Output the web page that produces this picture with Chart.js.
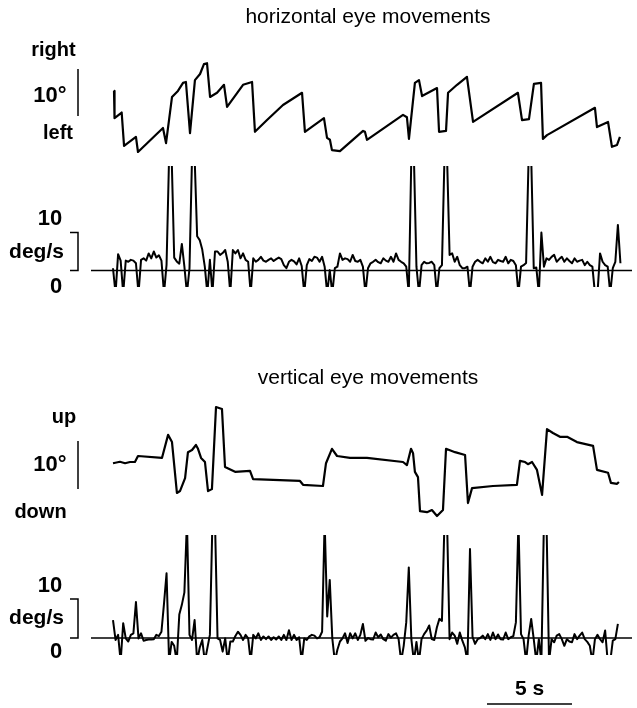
<!DOCTYPE html>
<html lang="en">
<head>
  <meta charset="UTF-8" />
  <title>Eye movements</title>
  <style>
    body {
      margin: 0;
      background: #fff;
    }
    #wrap {
      position: relative;
      width: 637px;
      height: 708px;
    }
    #wrap canvas {
      position: absolute;
      left: 0;
      top: 0;
    }
  </style>
  <script src="https://cdn.jsdelivr.net/npm/chart.js"></script>
</head>
<body>

<div id="wrap">
  <canvas id="hPos" width="637" height="708"></canvas>
  <canvas id="hVel" width="637" height="708"></canvas>
  <canvas id="vPos" width="637" height="708"></canvas>
  <canvas id="vVel" width="637" height="708"></canvas>
</div>

<script>
  // horizontal eye position (s, deg)
  const hPosT = [0.06, 0.09, 0.51, 0.65, 1.35, 1.47, 2.94, 3.12, 3.47, 3.82, 4.12, 4.29, 4.53, 4.82, 5.12,
    5.35, 5.53, 5.71, 6.12, 6.53, 6.71, 7.65, 8.18, 8.35, 9.06, 10.0, 11.12, 11.29, 12.41, 12.59, 12.76,
    12.88, 13.35, 14.71, 14.82, 14.94, 17.06, 17.29, 17.41, 17.76, 18.0, 18.18, 19.06, 19.18, 19.59,
    19.71, 20.24, 20.82, 21.18, 23.82, 24.06, 24.47, 24.76, 25.18, 25.29, 25.53, 28.35, 28.47, 29.12,
    29.35, 29.65, 29.82];
  const hPosDeg = [13.0, 7.2, 8.4, 1.3, 3.2, 0.0, 5.1, 1.9, 11.7, 13.0, 14.7, 14.9, 4.0, 15.3, 16.6,
    18.7, 18.9, 11.7, 12.6, 14.3, 9.6, 14.3, 14.9, 4.3, 6.8, 10.0, 12.6, 4.3, 7.2, 3.0, 2.6,
    0.4, 0.2, 4.5, 4.3, 2.6, 7.9, 7.4, 2.8, 14.7, 15.3, 11.9, 13.6, 4.3, 4.5,
    12.6, 14.3, 16.0, 6.4, 12.6, 6.8, 7.0, 14.5, 14.7, 2.8, 3.6, 9.4, 5.3, 6.4,
    1.1, 1.5, 3.2];

  // velocity traces are sampled every VEL_DT seconds from t = 0
  const VEL_DT = 0.15;
  const hVelDps = [
    0.6, -6, 4.3, 2.6, -6, 2.6, 2.3, 2.8, 2.6, 1.9,
    -6, 2.8, 3.2, 2.6, 4.5, 3.2, 5.0, 3.4, 4.0, 2.6,
    -6, 1.5, 30, 30, 3.4, 2.4, 1.8, 7.0, 1.0, -6,
    0.6, 30, 30, 9.0, 8.0, 5.5, 1.0, -6, 2.8, -6,
    5.0, 5.0, 4.1, 4.6, 5.4, 2.3, -6, 5.4, 4.5, 5.4,
    3.2, 4.5, 2.8, 2.3, -6, 3.2, 2.3, 2.8, 3.6, 2.6,
    2.3, 2.8, 3.2, 2.5, 3.0, 3.4, 3.0, 1.4, 0.6, 2.3,
    2.8, 2.4, 1.6, 3.2, 1.2, -6, 1.4, 3.0, 2.5, 3.6,
    3.4, 2.3, 3.6, 1.0, -6, 0.1, -6, 0.6, 1.0, 4.5,
    2.8, 3.2, 3.0, 2.3, 4.1, 2.5, 2.3, 2.8, 1.0, -6,
    0.6, 1.9, 2.3, 2.8, 2.2, 1.9, 3.2, 2.6, 2.3, 3.6,
    2.3, 4.5, 2.8, 2.3, 1.9, 1.0, -6, 30, 30, 1.0,
    -6, 1.4, 2.3, 1.9, 2.0, 2.3, 1.4, -6, 0.6, 1.4,
    30, 30, 4.1, 4.5, 2.3, 3.6, 1.4, 0.6, 0.6, 1.0,
    -6, 1.0, 2.3, 2.8, 2.3, 1.9, 3.2, 2.3, 3.6, 2.2,
    1.9, 2.8, 2.5, 2.3, 3.6, 1.9, 2.8, 2.5, 1.4, -6,
    1.0, 1.4, 2.0, 30, 30, 0.6, 0.8, -6, 10, 1.0,
    3.2, 2.8, 3.6, 4.1, 2.3, 3.0, 3.6, 2.3, 3.2, 2.5,
    1.9, 3.2, 2.3, 2.6, 2.8, 1.4, 2.3, 1.4, 1.0, -6,
    -6, 4.5, 2.3, 1.4, 1.0, -6, 0.6, 2.3, 12, 1.9
  ];

  // vertical eye position (s, deg)
  const vPosT = [0.0, 0.41, 0.71, 1.0, 1.29, 1.47, 2.88, 3.24, 3.47, 3.76, 3.94, 4.24, 4.41, 4.65, 4.88,
    5.0, 5.18, 5.41, 5.59, 5.82, 6.06, 6.41, 6.59, 7.18, 8.06, 8.24, 11.0, 11.18, 12.35, 12.53,
    12.88, 13.18, 13.94, 14.94, 17.06, 17.29, 17.53, 17.65, 17.76, 17.94, 18.06, 18.47, 18.76, 19.06,
    19.41, 19.59, 20.12, 20.71, 20.88, 21.12, 22.35, 23.76, 23.94, 24.24, 24.41, 24.65, 24.94, 25.24,
    25.53, 25.88, 26.29, 26.71, 27.29, 28.24, 28.47, 29.12, 29.29, 29.65, 29.76];
  const vPosDeg = [11.0, 11.3, 11.0, 11.25, 11.25, 12.5, 12.1, 16.9, 15.4, 4.8, 5.2, 7.9, 13.3, 13.75, 14.8,
    14.0, 12.1, 11.25, 5.2, 5.6, 22.7, 22.3, 10.2, 9.2, 9.4, 7.7, 7.3, 6.5, 6.25, 11.0,
    14.0, 12.5, 12.1, 12.1, 11.25, 10.6, 14.0, 13.1, 9.2, 8.1, 1.0, 0.8, 1.25, 0.0,
    1.25, 14.0, 13.3, 12.7, 2.7, 5.8, 6.25, 6.5, 11.5, 11.25, 10.8, 11.25, 9.6, 4.4,
    18.1, 17.3, 16.5, 16.5, 15.4, 14.6, 9.6, 9.0, 6.9, 6.7, 7.1];

  const vVelDps = [
    4.6, -0.5, 0.8, -6, 3.8, -0.1, -0.9, 0.8, 1.2, 9.2,
    -0.1, 1.2, -0.7, -0.5, -0.4, -0.4, -0.3, 0.8, 0.5, 1.6,
    8.8, 16.6, -6, -1.0, -2.0, -6, 6.0, 8.5, 11.7, 30,
    0.8, -0.5, 4.6, -6, -2.5, -0.5, -6, -2.6, 0.8, 30,
    30, -0.1, -0.5, -3.5, -0.1, -6, -0.9, -0.9, 0.5, 1.6,
    0.8, -0.5, 0.8, -0.1, -6, 0.8, -0.1, 1.2, -0.5, 0.4,
    -0.3, 0.4, -0.5, 0.2, -0.4, 0.4, -0.5, 0.8, -0.5, 2.0,
    -0.5, 0.8, -0.5, 0.2, -6, -0.1, -0.5, 0.4, 0.8, 0.6,
    -0.1, 0.2, 1.6, 30, 5.5, 14.9, -0.1, -6, -3.0, -0.9,
    -0.1, 1.2, -1.3, 1.2, -0.1, 1.2, -0.5, 0.8, 3.6, -0.7,
    0.0, -0.3, -0.4, 1.4, 0.2, 0.9, -0.3, -0.7, 1.0, 0.1,
    0.8, 1.2, -0.3, -6, -2.0, 4.0, 18.1, -0.3, -6, -1.0,
    -6, -0.3, 1.0, 1.9, 3.2, -0.3, -0.5, 2.7, 4.9, 4.4,
    30, 30, -0.3, 1.4, 0.6, -1.5, 1.4, -0.7, -2.4, -6,
    22.8, 0.3, -1.5, -0.3, 0.0, 0.6, -0.3, 1.0, -0.5, 1.4,
    -0.3, 0.9, -0.3, -0.4, 1.4, -0.3, 0.2, 0.5, 4.0, 30,
    1.0, -0.3, -6, 0.6, 4.9, -0.3, -6, -0.3, -6, 30,
    30, -6, -0.3, -1.1, 0.6, 1.0, -0.3, -2.0, -0.3, -0.9,
    -1.1, 1.0, -0.3, 0.6, 1.4, -0.3, -1.0, -2.0, -6, -0.3,
    0.8, -0.3, -1.1, 1.9, -6, -6, -0.7, -0.3, 3.6
  ];

  // time window (s); the zero line runs across all of it
  const X_MIN = -1.294;
  const X_MAX = 30.53;
  const FONT = '"Liberation Sans", Arial, Helvetica, sans-serif';

  function pairs(ts, vs) {
    return ts.map((t, i) => ({ x: t, y: vs[i] }));
  }
  function sampled(vs) {
    return vs.map((v, i) => ({ x: i * VEL_DT, y: v }));
  }

  // draws zero line, calibration bars and the text labels of one panel
  function decor(cfg) {
    return {
      id: 'decor',
      beforeDatasetsDraw(chart) {
        const { ctx, chartArea } = chart;
        const x = chart.scales.x, y = chart.scales.y;
        ctx.save();
        ctx.strokeStyle = '#000';
        ctx.fillStyle = '#000';
        ctx.lineWidth = 1.5;
        if (cfg.zeroLine) {
          const py = y.getPixelForValue(0);
          ctx.beginPath();
          ctx.moveTo(chartArea.left, py);
          ctx.lineTo(chartArea.right, py);
          ctx.stroke();
        }
        if (cfg.bar) {
          const b = cfg.bar;
          const y0 = y.getPixelForValue(b.from);
          const y1 = y.getPixelForValue(b.from + b.size);
          ctx.beginPath();
          if (b.tick) {
            ctx.moveTo(b.x - b.tick, y0);
            ctx.lineTo(b.x, y0);
            ctx.lineTo(b.x, y1);
            ctx.lineTo(b.x - b.tick, y1);
          } else {
            ctx.moveTo(b.x, y0);
            ctx.lineTo(b.x, y1);
          }
          ctx.stroke();
        }
        if (cfg.timeBar) {
          const tb = cfg.timeBar;
          const x0 = x.getPixelForValue(tb.from);
          const x1 = x.getPixelForValue(tb.from + tb.size);
          ctx.beginPath();
          ctx.moveTo(x0, tb.y);
          ctx.lineTo(x1, tb.y);
          ctx.stroke();
          ctx.font = 'bold ' + tb.fontSize + 'px ' + FONT;
          ctx.textAlign = 'center';
          ctx.fillText(tb.label, (x0 + x1) / 2, tb.labelY);
        }
        ctx.textAlign = 'center';
        ctx.textBaseline = 'alphabetic';
        (cfg.labels || []).forEach(l => {
          ctx.font = (l.bold ? 'bold ' : '') + l.size + 'px ' + FONT;
          ctx.fillText(l.text, l.x, l.y);
        });
        ctx.restore();
      }
    };
  }

  function panel(id, points, yMin, yMax, lineWidth, cfg) {
    return new Chart(document.getElementById(id), {
      type: 'line',
      data: {
        datasets: [{
          data: points,
          borderColor: '#000',
          borderWidth: lineWidth,
          pointRadius: 0,
          tension: 0,
          borderJoinStyle: 'round',
          clip: 0
        }]
      },
      options: {
        responsive: false,
        animation: false,
        events: [],
        layout: { padding: cfg.pad },
        scales: {
          x: { type: 'linear', display: false, min: X_MIN, max: X_MAX },
          y: { type: 'linear', display: false, min: yMin, max: yMax }
        },
        plugins: { legend: { display: false }, tooltip: { enabled: false } }
      },
      plugins: [decor(cfg)]
    });
  }

  panel('hPos', pairs(hPosT, hPosDeg), -1.7, 20.64, 2.2, {
    pad: { left: 91, right: 5, top: 55, bottom: 548 },
    bar: { x: 78, from: 7.66, size: 10 },
    labels: [
      { text: 'horizontal eye movements', x: 368, y: 23, size: 21 },
      { text: 'right', x: 53.5, y: 56, size: 20, bold: true },
      { text: '10°', x: 50, y: 102, size: 22, bold: true },
      { text: 'left', x: 58, y: 139, size: 20, bold: true }
    ]
  });

  panel('hVel', sampled(hVelDps), -4.34, 27.5, 2.0, {
    pad: { left: 91, right: 5, top: 166, bottom: 421 },
    zeroLine: true,
    bar: { x: 78, from: 0, size: 10, tick: 8 },
    labels: [
      { text: '10', x: 50, y: 225, size: 22, bold: true },
      { text: 'deg/s', x: 36.5, y: 258, size: 21, bold: true },
      { text: '0', x: 56, y: 293, size: 22, bold: true }
    ]
  });

  panel('vPos', pairs(vPosT, vPosDeg), -1.875, 24.17, 2.2, {
    pad: { left: 91, right: 5, top: 400, bottom: 183 },
    bar: { x: 78, from: 5.625, size: 10 },
    labels: [
      { text: 'vertical eye movements', x: 368, y: 384, size: 21 },
      { text: 'up', x: 64, y: 423, size: 20, bold: true },
      { text: '10°', x: 50, y: 471, size: 22, bold: true },
      { text: 'down', x: 40.5, y: 518, size: 20, bold: true }
    ]
  });

  panel('vVel', sampled(vVelDps), -4.36, 26.41, 2.0, {
    pad: { left: 91, right: 5, top: 535, bottom: 53 },
    zeroLine: true,
    bar: { x: 78, from: 0, size: 10, tick: 8 },
    timeBar: { from: 22.0, size: 5, y: 704, label: '5 s', labelY: 695, fontSize: 21 },
    labels: [
      { text: '10', x: 50, y: 592, size: 22, bold: true },
      { text: 'deg/s', x: 36.5, y: 624, size: 21, bold: true },
      { text: '0', x: 56, y: 658, size: 22, bold: true }
    ]
  });
</script>

</body>
</html>
